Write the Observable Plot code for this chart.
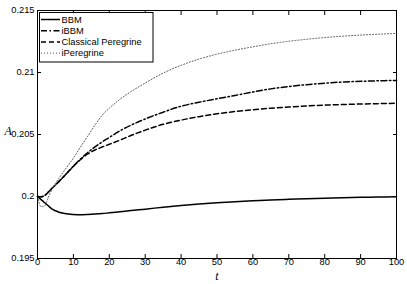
<!DOCTYPE html>
<html>
<head>
<meta charset="utf-8">
<script src="https://cdn.jsdelivr.net/npm/d3@7"></script>
<script src="https://cdn.jsdelivr.net/npm/@observablehq/plot@0.6"></script>
<style>
  html, body { margin: 0; padding: 0; background: #fff; }
</style>
</head>
<body>
<div id="chart"></div>
<script>
const t = [0,1,2,3,4,5,6,8,10,12,14,16,18,20,23,26,30,35,40,45,50,55,60,65,70,75,80,85,90,95,100];

const bbm = [0.2000,0.19975,0.1995,0.19925,0.1990,0.19885,0.19873,0.1986,0.19855,0.19853,0.19855,0.19858,0.19862,0.19868,0.19877,0.19887,0.19898,0.19914,0.19928,0.19940,0.19950,0.19958,0.19965,0.19972,0.19977,0.19982,0.19986,0.19990,0.19993,0.19996,0.19998];

const ibbm = [0.2000,0.19998,0.20008,0.20035,0.20064,0.20093,0.20122,0.20182,0.20245,0.20303,0.20355,0.20400,0.20440,0.20476,0.20530,0.20575,0.20625,0.20680,0.20728,0.20760,0.20788,0.20815,0.20843,0.20868,0.20887,0.20902,0.20914,0.20923,0.20929,0.20933,0.20936];

const peregrine = [0.2000,0.19998,0.20008,0.20035,0.20064,0.20093,0.20122,0.20182,0.20243,0.20298,0.20343,0.20375,0.20399,0.20421,0.20455,0.20492,0.20535,0.20582,0.20616,0.20644,0.20667,0.20685,0.20700,0.20712,0.20722,0.20730,0.20737,0.20742,0.20746,0.20749,0.20752];

const iperegrine = [0.2000,0.19918,0.19925,0.19992,0.20055,0.20105,0.20148,0.20230,0.20310,0.20400,0.20488,0.20575,0.20655,0.20712,0.20785,0.20845,0.20915,0.20995,0.21058,0.21108,0.21148,0.21180,0.21207,0.21232,0.21252,0.21268,0.21282,0.21293,0.21302,0.21309,0.21315];

const seriesNames = ["BBM", "iBBM", "Classical Peregrine", "iPeregrine"];
const xTicks = [0,10,20,30,40,50,60,70,80,90,100];
const yTicks = [0.195,0.2,0.205,0.21,0.215];

const styles = {
  "BBM": {stroke: "#000", strokeWidth: 1.5, dash: null},
  "iBBM": {stroke: "#000", strokeWidth: 1.5, dash: "6,2.5,1.5,2.5"},
  "Classical Peregrine": {stroke: "#000", strokeWidth: 1.5, dash: "5,3"},
  "iPeregrine": {stroke: "#555", strokeWidth: 1, dash: "1,2"}
};

const valuesBySeries = [bbm, ibbm, peregrine, iperegrine];
const rows = [];
seriesNames.forEach((name, i) => {
  t.forEach((tv, j) => rows.push({series: name, t: tv, A: valuesBySeries[i][j]}));
});

const fmt = d => String(+d.toFixed(3));

const lineMarks = seriesNames.map(name => Plot.line(rows.filter(r => r.series === name), {
  x: "t", y: "A", stroke: styles[name].stroke, strokeWidth: styles[name].strokeWidth,
  strokeDasharray: styles[name].dash, curve: "monotone-x"
}));

const plot = Plot.plot({
  width: 407,
  height: 284,
  marginLeft: 37,
  marginRight: 11,
  marginTop: 10,
  marginBottom: 26,
  style: {fontFamily: "'Liberation Sans', Arial, sans-serif", fontSize: "9.3px", background: "#fff", color: "#000"},
  x: {domain: [0, 100]},
  y: {domain: [0.195, 0.215]},
  marks: [
    ...lineMarks,
    Plot.frame({stroke: "#000", strokeWidth: 1}),
    Plot.axisX(xTicks, {anchor: "bottom", tickSize: -4, tickPadding: 4, tickFormat: fmt, label: null, fontSize: 9.3}),
    Plot.axisX(xTicks, {anchor: "top", tickSize: -4, tickFormat: () => "", label: null}),
    Plot.axisY(yTicks, {anchor: "left", tickSize: -4, tickPadding: 7, tickFormat: fmt, label: null, fontSize: 9.3}),
    Plot.axisY(yTicks, {anchor: "right", tickSize: -4, tickFormat: () => "", label: null}),
    Plot.text(["A"], {frameAnchor: "left", dx: -33, dy: -3, fontFamily: "'Liberation Serif', 'Times New Roman', serif", fontStyle: "italic", fontSize: 12}),
    Plot.text(["t"], {frameAnchor: "bottom", dy: 21, fontFamily: "'Liberation Serif', 'Times New Roman', serif", fontStyle: "italic", fontSize: 12})
  ]
});

document.getElementById("chart").appendChild(plot);

// Legend inside the plot (top-left)
const svg = d3.select(plot);
const lg = svg.append("g")
  .attr("font-family", "'Liberation Sans', Arial, sans-serif")
  .attr("font-size", 9.3)
  .attr("text-anchor", "start");
const lx = 39.5, ly = 12.5, lw = 113.5, lh = 49.5;
lg.append("rect").attr("x", lx).attr("y", ly).attr("width", lw).attr("height", lh)
  .attr("fill", "#fff").attr("stroke", "#000").attr("stroke-width", 1);
seriesNames.forEach((name, i) => {
  const yy = 19.5 + i * 11.2;
  const s = styles[name];
  lg.append("line").attr("x1", 41).attr("x2", 60).attr("y1", yy).attr("y2", yy)
    .attr("stroke", s.stroke).attr("stroke-width", s.strokeWidth)
    .attr("stroke-dasharray", s.dash);
  lg.append("text").attr("x", 61.5).attr("y", yy).attr("dy", "0.35em")
    .attr("text-anchor", "start").attr("fill", "#000").text(name);
});
</script>
</body>
</html>
